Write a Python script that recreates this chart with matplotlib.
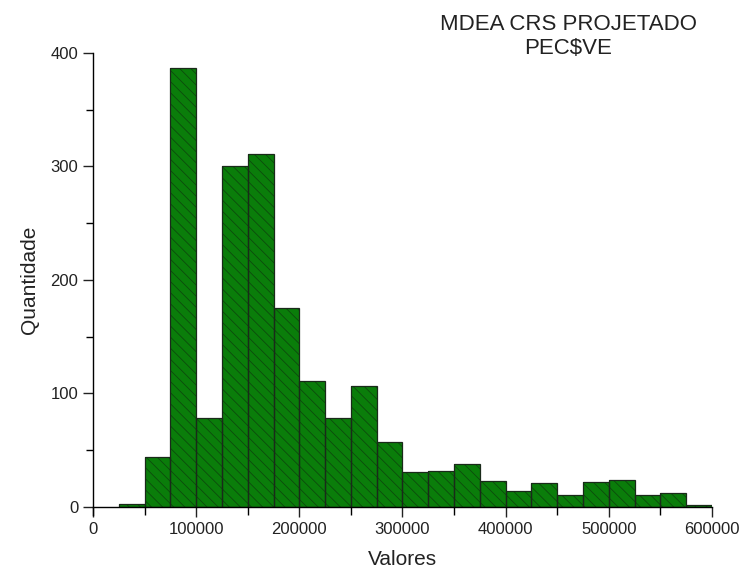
import matplotlib
matplotlib.use("Agg")
import matplotlib.pyplot as plt
from matplotlib.ticker import MultipleLocator

plt.rcParams['font.family'] = ['Liberation Sans', 'DejaVu Sans']
plt.rcParams['hatch.linewidth'] = 0.6

bin_edges = [25000, 50000, 75000, 100000, 125000, 150000, 175000, 200000, 225000,
             250000, 275000, 300000, 325000, 350000, 375000, 400000, 425000, 450000,
             475000, 500000, 525000, 550000, 575000, 600000]
counts = [3, 44, 387, 78, 300, 311, 175, 111, 78, 107, 57, 31, 32, 38, 23, 14, 21,
          11, 22, 24, 11, 12, 2]
title = "MDEA CRS PROJETADO\nPEC$VE"
xlabel = "Valores"
ylabel = "Quantidade"

fig = plt.figure(figsize=(7.42, 5.76), dpi=100)
ax = fig.add_axes([0.1253, 0.1198, 0.8343, 0.7882])

lefts = bin_edges[:-1]
widths = [b - a for a, b in zip(bin_edges[:-1], bin_edges[1:])]
ax.bar(lefts, counts, width=widths, align='edge', color='#0a7d0a',
       edgecolor='#0d4a0d', hatch='\\\\\\', linewidth=0)
ax.bar(lefts, counts, width=widths, align='edge', fill=False,
       edgecolor='#1a2a1a', linewidth=0.9)

ax.set_xlim(0, 600000)
ax.set_ylim(0, 400)
for s in ['top', 'right']:
    ax.spines[s].set_visible(False)
for s in ['left', 'bottom']:
    ax.spines[s].set_linewidth(1.0)
ax.spines['left'].set_bounds(-7, 400)

ax.xaxis.set_major_locator(MultipleLocator(100000))
ax.xaxis.set_minor_locator(MultipleLocator(50000))
ax.yaxis.set_major_locator(MultipleLocator(100))
ax.yaxis.set_minor_locator(MultipleLocator(50))
ax.tick_params(axis='both', which='major', direction='out', length=7, width=1,
               labelsize=12, colors='#222222')
ax.tick_params(axis='both', which='minor', direction='out', length=5, width=1)
ax.tick_params(axis='x', which='minor', length=6)
ax.ticklabel_format(axis='x', style='plain')

ax.set_xlabel(xlabel, fontsize=15, labelpad=10, color='#222222')
ax.set_ylabel(ylabel, fontsize=15, labelpad=8, color='#222222')

fig.text(0.766, 0.975, title, ha='center', va='top', fontsize=16,
         color='#222222', linespacing=1.15)

fig.savefig("out.png", dpi=100)
